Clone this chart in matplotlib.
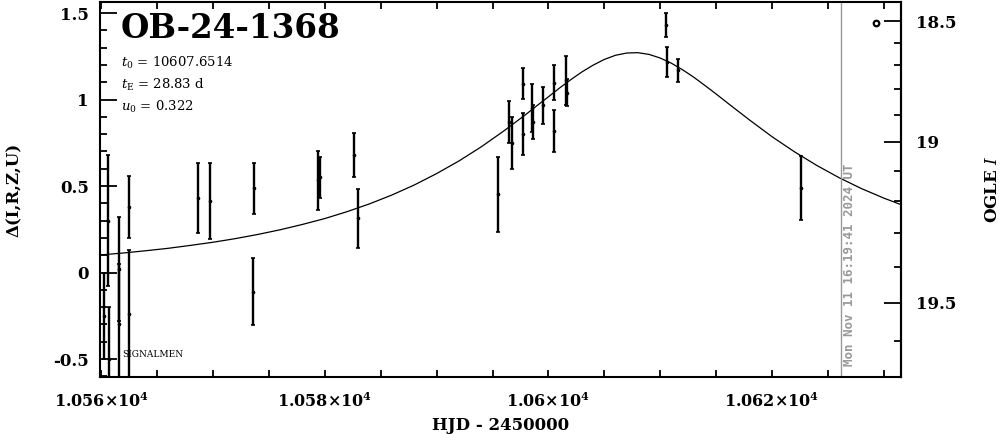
import numpy as np
import matplotlib.pyplot as plt
from matplotlib.ticker import MultipleLocator, FixedLocator, FuncFormatter

plt.rcParams['font.family'] = 'DejaVu Serif'
plt.rcParams['mathtext.fontset'] = 'dejavuserif'

# photometry: HJD-2450000, delta, error
hjd = [10560.6, 10560.3, 10560.7, 10561.6, 10561.6, 10562.5, 10562.5,
       10568.66, 10569.7, 10573.63, 10573.54, 10579.4, 10579.6, 10582.63, 10583.0,
       10595.53, 10596.5, 10596.7, 10597.7, 10597.7, 10598.5, 10598.6, 10599.5,
       10600.5, 10600.5, 10601.6, 10601.7,
       10610.5, 10610.6, 10611.56, 10622.55]
delta = [0.30, -0.25, -0.50, 0.02, -0.30, 0.38, -0.24,
         0.432, 0.413, 0.486, -0.111, 0.533, 0.55, 0.678, 0.314,
         0.452, 0.87, 0.75, 1.092, 0.80, 0.95, 0.871, 0.967,
         1.097, 0.817, 1.111, 1.04,
         1.429, 1.217, 1.169, 0.486]
err = [0.38, 0.25, 0.30, 0.30, 0.35, 0.18, 0.37,
       0.204, 0.218, 0.148, 0.195, 0.17, 0.12, 0.127, 0.17,
       0.217, 0.12, 0.15, 0.091, 0.12, 0.14, 0.10, 0.108,
       0.10, 0.12, 0.142, 0.08,
       0.069, 0.087, 0.067, 0.185]

# model curve
model_t = [10558, 10560, 10562, 10564, 10566, 10568, 10570, 10572, 10574, 10576,
           10578, 10580, 10582, 10584, 10586, 10588, 10590, 10592, 10594, 10596,
           10598, 10599, 10600, 10601, 10602, 10603, 10604, 10605, 10606, 10607,
           10608, 10609, 10610, 10611, 10612, 10613, 10614, 10615, 10616,
           10618, 10620, 10622, 10624, 10626, 10628, 10630, 10632, 10634]
model_d = [0.092, 0.102, 0.113, 0.126, 0.140, 0.157, 0.175, 0.196, 0.220, 0.247,
           0.278, 0.312, 0.352, 0.397, 0.448, 0.506, 0.572, 0.645, 0.727, 0.818,
           0.915, 0.966, 1.016, 1.067, 1.115, 1.160, 1.199, 1.232, 1.256, 1.269,
           1.271, 1.261, 1.240, 1.210, 1.172, 1.129, 1.081, 1.032, 0.981,
           0.881, 0.785, 0.698, 0.619, 0.548, 0.485, 0.430, 0.381, 0.338]

ogle_t = [10629.3]
ogle_d = [1.44]

now_hjd = 10626.18

fig = plt.figure(figsize=(10.04, 4.34), dpi=100)
ax = fig.add_axes([100 / 1004, 57 / 434, 800.7 / 1004, 375 / 434])

ax.plot(model_t, model_d, color='k', lw=0.9)
ax.errorbar(hjd, delta, yerr=err, fmt='o', ms=1.6, color='k', elinewidth=1.7,
            capsize=1.6, capthick=1.2)
ax.plot(ogle_t, ogle_d, 'o', mfc='none', mec='k', ms=4, mew=1.6)
ax.axvline(now_hjd, color='#999999', lw=1)
ax.text(now_hjd + 0.15, -0.54, 'Mon Nov 11 16:19:41 2024 UT', rotation=90,
        color='#999999', fontsize=9, family='DejaVu Sans Mono', weight='bold',
        ha='left', va='bottom')

ax.set_xlim(10559.9, 10631.5)
ax.set_ylim(-0.604, 1.564)

for s in ax.spines.values():
    s.set_linewidth(1.5)

ax.xaxis.set_major_locator(FixedLocator([10560, 10580, 10600, 10620]))
ax.xaxis.set_minor_locator(MultipleLocator(5))
ax.xaxis.set_major_formatter(FuncFormatter(
    lambda v, p: r'$\mathbf{%s{\times}10^4}$' % ('%g' % (v / 1e4))))
ax.yaxis.set_major_locator(MultipleLocator(0.5))
ax.yaxis.set_minor_locator(MultipleLocator(0.1))
ax.yaxis.set_major_formatter(FuncFormatter(lambda v, p: '%g' % v))

ax.tick_params(axis='x', which='both', direction='in', top=True, bottom=True,
               length=5, width=1.3, pad=11, labelsize=11.5)
ax.tick_params(axis='y', which='both', direction='in', left=True, right=False,
               width=1.3, pad=8, labelsize=12)
ax.tick_params(axis='y', which='major', length=12)
ax.tick_params(axis='y', which='minor', length=5)
for lab in ax.get_yticklabels():
    lab.set_fontweight('bold')

ax.set_xlabel('HJD - 2450000', fontsize=12, fontweight='bold', labelpad=4)
ax.set_ylabel('Δ(I,R,Z,U)', fontsize=12, fontweight='bold', labelpad=22)


def to_mag(d):
    d = np.asarray(d, dtype=float)
    return 19.0 + 1.727 * np.log(np.clip((3.528 - d) / 2.773, 1e-6, None))


def to_delta(m):
    m = np.asarray(m, dtype=float)
    return 3.528 - 2.773 * np.exp((m - 19.0) / 1.727)


sec = ax.secondary_yaxis('right', functions=(to_mag, to_delta))
sec.yaxis.set_major_locator(FixedLocator([18.5, 19.0, 19.5]))
sec.yaxis.set_minor_locator(FixedLocator(np.arange(18.4, 19.75, 0.1)))
sec.yaxis.set_major_formatter(FuncFormatter(lambda v, p: '%g' % v))
sec.tick_params(which='both', direction='in', width=1.3, pad=11, labelsize=12)
sec.tick_params(which='major', length=12)
sec.tick_params(which='minor', length=5)
sec.spines['right'].set_linewidth(1.5)
for lab in sec.get_yticklabels():
    lab.set_fontweight('bold')
sec.set_ylabel('OGLE $\\mathit{I}$', fontsize=12, fontweight='bold', labelpad=20)

ax.text(0.026, 0.904, 'OB-24-1368', transform=ax.transAxes, fontsize=23.5,
        fontweight='bold', ha='left', va='baseline')
ax.text(0.026, 0.838, r'$t_0$ = 10607.6514', transform=ax.transAxes, fontsize=9.5,
        ha='left', va='center')
ax.text(0.026, 0.779, r'$t_{\rm E}$ = 28.83 d', transform=ax.transAxes, fontsize=9.5,
        ha='left', va='center')
ax.text(0.026, 0.719, r'$u_0$ = 0.322', transform=ax.transAxes, fontsize=9.5,
        ha='left', va='center')
ax.text(10561.87, -0.472, 'SIGNALMEN', fontsize=6.5, ha='left', va='center')

fig.savefig('out.png', dpi=100)
